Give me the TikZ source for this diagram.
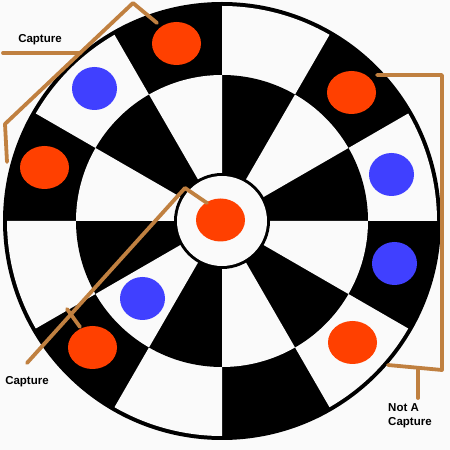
\documentclass[tikz,border=0pt]{standalone}
\usepackage{fontspec}
\setmainfont{Liberation Sans}
\usetikzlibrary{shapes.geometric}
\definecolor{bwhite}{RGB}{250,250,250}
\definecolor{pred}{RGB}{255,64,0}
\definecolor{pblue}{RGB}{64,64,255}
\definecolor{linebrown}{RGB}{192,128,64}
\begin{document}
\begin{tikzpicture}[x=1pt,y=1pt,
  disc/.style={ellipse, minimum width=49pt, minimum height=43pt, inner sep=0pt},
  reddisc/.style={disc, fill=pred},
  bluedisc/.style={disc, fill=pblue, minimum width=45pt},
  markline/.style={draw=linebrown, line width=3.8pt, line cap=round, line join=round},
  lbl/.style={font=\bfseries\fontsize{11.5}{14}\selectfont, inner sep=0pt, align=left}]
\fill[bwhite] (0,0) rectangle (450,450);
\useasboundingbox (0,0) rectangle (450,450);
\begin{scope}[shift={(222,229)}]
  \fill[black] (0,0) circle[radius=219];
  \foreach \a in {0,60,...,300}
    \fill[bwhite] (0,0) -- (\a:215) arc[start angle=\a, end angle=\a+30, radius=215] -- cycle;
  \fill[black] (0,0) circle[radius=146];
  \foreach \a in {30,90,...,330}
    \fill[bwhite] (0,0) -- (\a:146) arc[start angle=\a, end angle=\a+30, radius=146] -- cycle;
  \fill[black] (0,0) circle[radius=48];
  \fill[bwhite] (0,0) circle[radius=45];
\end{scope}
% discs
\node[reddisc] (r1) at (176.5,406.5) {};
\node[bluedisc] (b1) at (94.5,361.5) {};
\node[reddisc] (r2) at (44.5,282.5) {};
\node[reddisc] (r3) at (220.5,230) {};
\node[reddisc] (r4) at (351.5,357.5) {};
\node[bluedisc] (b2) at (391.5,275.5) {};
\node[bluedisc] (b3) at (394.5,186.5) {};
\node[reddisc] (r5) at (352.5,107.5) {};
\node[bluedisc] (b4) at (142.5,151.5) {};
\node[reddisc] (r6) at (92.5,102.5) {};
% annotation lines
\coordinate (p1) at (7,288);
\coordinate (p2) at (5,326);
\coordinate (p3) at (133,447);
\coordinate (p4) at (157,427);
\coordinate (h1) at (3,397);
\coordinate (h2) at (80,397);
\draw[markline] (p1) -- (p2) -- (p3) -- (p4);
\draw[markline] (h1) -- (h2);
\coordinate (q1) at (207,247);
\coordinate (q2) at (185,262);
\coordinate (q3) at (27,87);
\coordinate (q4) at (67,141);
\coordinate (q5) at (80,123);
\draw[markline] (q1) -- (q2) -- (q3);
\draw[markline] (q4) -- (q5);
\coordinate (s1) at (377,375);
\coordinate (s2) at (442,375);
\coordinate (s3) at (442,80);
\coordinate (s4) at (388,85);
\coordinate (t1) at (418,82);
\coordinate (t2) at (418,52);
\draw[markline] (s1) -- (s2) -- (s3) -- (s4);
\draw[markline] (t1) -- (t2);
% labels
\node[lbl] (l1) at (40,410) {Capture};
\node[lbl] (l2) at (27,68) {Capture};
\node[lbl, anchor=north west] (l3) at (388,47) {Not A\\Capture};
\end{tikzpicture}
\end{document}
